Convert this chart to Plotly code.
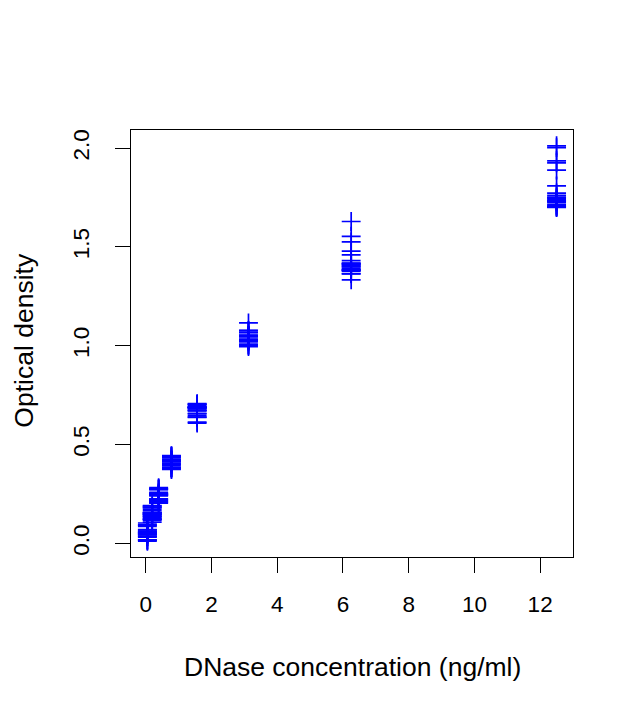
import plotly.graph_objects as go

# DNase ELISA data: concentration levels (each measured twice per run)
conc_levels = [0.04882812, 0.1953125, 0.390625, 0.78125, 1.5625, 3.125, 6.25, 12.5]

run1 = [0.017, 0.018, 0.121, 0.124, 0.206, 0.215, 0.377, 0.374, 0.614, 0.609, 1.019, 1.001, 1.334, 1.364, 1.730, 1.710]
run2 = [0.045, 0.050, 0.137, 0.123, 0.225, 0.207, 0.401, 0.383, 0.672, 0.681, 1.116, 1.078, 1.554, 1.526, 2.012, 1.926]
run3 = [0.070, 0.068, 0.173, 0.165, 0.277, 0.248, 0.434, 0.426, 0.703, 0.689, 1.067, 1.077, 1.629, 1.479, 2.003, 1.936]
run4 = [0.011, 0.016, 0.118, 0.108, 0.214, 0.203, 0.385, 0.396, 0.658, 0.645, 1.023, 0.996, 1.411, 1.380, 1.715, 1.703]
run5 = [0.035, 0.035, 0.132, 0.135, 0.224, 0.220, 0.385, 0.384, 0.637, 0.639, 1.005, 1.032, 1.417, 1.392, 1.773, 1.733]
run6 = [0.086, 0.103, 0.191, 0.189, 0.272, 0.277, 0.440, 0.438, 0.698, 0.685, 1.054, 1.031, 1.460, 1.399, 1.706, 1.740]
run7 = [0.094, 0.092, 0.182, 0.182, 0.282, 0.273, 0.444, 0.442, 0.707, 0.686, 1.052, 1.033, 1.378, 1.365, 1.700, 1.702]
run8 = [0.054, 0.057, 0.152, 0.155, 0.252, 0.242, 0.419, 0.415, 0.689, 0.690, 1.068, 1.046, 1.408, 1.387, 1.761, 1.733]
run9 = [0.032, 0.043, 0.142, 0.155, 0.250, 0.241, 0.414, 0.412, 0.674, 0.655, 1.046, 1.026, 1.383, 1.384, 1.746, 1.724]
run10 = [0.052, 0.062, 0.148, 0.157, 0.245, 0.258, 0.420, 0.420, 0.704, 0.690, 1.052, 1.048, 1.418, 1.402, 1.889, 1.749]
run11 = [0.047, 0.057, 0.146, 0.147, 0.245, 0.254, 0.402, 0.422, 0.671, 0.687, 1.008, 1.026, 1.431, 1.414, 1.809, 1.753]

runs = [run1, run2, run3, run4, run5, run6, run7, run8, run9, run10, run11]

x_ticks = [0, 2, 4, 6, 8, 10, 12]
y_ticks = [0.0, 0.5, 1.0, 1.5, 2.0]
y_tick_labels = ["0.0", "0.5", "1.0", "1.5", "2.0"]

conc = []
density = []
for r in runs:
    for i, d in enumerate(r):
        conc.append(conc_levels[i // 2])
        density.append(d)

font = "Liberation Sans, Arial, sans-serif"

fig = go.Figure()
fig.add_trace(go.Scatter(
    x=conc, y=density, mode="markers",
    marker=dict(symbol="cross-thin", size=13.5, color="#0000FF",
                line=dict(color="#0000FF", width=1.7)),
    showlegend=False, hoverinfo="x+y",
))

axis_common = dict(
    showline=True, linecolor="black", linewidth=1.2, mirror=True,
    ticks="outside", ticklen=15, tickwidth=1.2, tickcolor="black",
    showgrid=False, zeroline=False,
    tickfont=dict(family=font, size=22.5, color="black"),
)

fig.update_layout(
    width=640, height=720,
    margin=dict(l=123, r=75, t=122, b=171),
    paper_bgcolor="white", plot_bgcolor="white",
    xaxis=dict(range=[-0.45, 13.0], tickvals=x_ticks, ticklabelstandoff=12, **axis_common),
    yaxis=dict(range=[-0.069, 2.092], tickvals=y_ticks, ticktext=y_tick_labels,
               tickangle=-90, ticklabelstandoff=17, **axis_common),
    annotations=[
        dict(text="DNase concentration (ng/ml)", xref="paper", yref="paper",
             x=0.5, y=-0.2576, xanchor="center", yanchor="middle", showarrow=False,
             font=dict(family=font, size=26.5, color="black")),
        dict(text="Optical density", xref="paper", yref="paper",
             x=-0.244, y=0.507, xanchor="center", yanchor="middle", showarrow=False,
             textangle=-90, font=dict(family=font, size=26.5, color="black")),
    ],
)

fig.write_html("out.html")
